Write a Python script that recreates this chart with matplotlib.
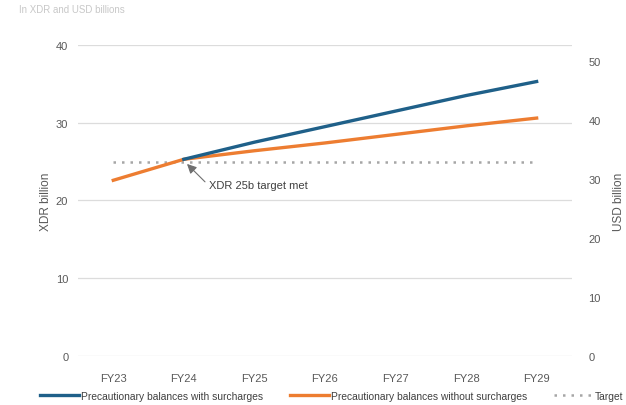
import matplotlib.pyplot as plt
import matplotlib
matplotlib.rcParams['font.family'] = ['Liberation Sans', 'DejaVu Sans']

# data ----
years = ['FY23', 'FY24', 'FY25', 'FY26', 'FY27', 'FY28', 'FY29']
with_surcharges = [None, 25.3, 27.5, 29.5, 31.5, 33.5, 35.3]
without_surcharges = [22.6, 25.3, 26.4, 27.4, 28.5, 29.6, 30.6]
target = [25, 25, 25, 25, 25, 25, 25]
xdr_ticks = [0, 10, 20, 30, 40]
usd_ticks = [0, 10, 20, 30, 40, 50]
usd_per_xdr = 1.318
#---------

grey = '#595959'
fig = plt.figure(figsize=(6.26, 4.06), dpi=100)
ax = fig.add_axes([0.1246, 0.1207, 0.789, 0.766])

x = list(range(len(years)))
xs = [i for i, v in zip(x, with_surcharges) if v is not None]
ys = [v for v in with_surcharges if v is not None]

ax.plot(x, target, linestyle=(0, (1, 2.4)), color='#a6a6a6', lw=1.8,
        label='Target', zorder=2)
ax.plot(x, without_surcharges, color='#ed7d31', lw=2.4,
        label='Precautionary balances without surcharges', zorder=3)
ax.plot(xs, ys, color='#1f6089', lw=2.4,
        label='Precautionary balances with surcharges', zorder=4)

ax.set_xlim(-0.5, len(years) - 0.5)
ax.set_ylim(0, 40)
ax.set_xticks(x)
ax.set_xticklabels(years)
ax.set_yticks(xdr_ticks)
ax.grid(axis='y', color='#dcdcdc', lw=0.9)
ax.set_axisbelow(True)
for s in ax.spines.values():
    s.set_visible(False)
ax.tick_params(length=0, colors=grey, labelsize=8, pad=7)
ax.tick_params(axis='x', pad=12)
ax.set_ylabel('XDR billion', color=grey, fontsize=8.5, labelpad=3)

# 右軸 (USD)
ax2 = ax.twinx()
ax2.set_ylim(0, 40 * usd_per_xdr)
ax2.set_yticks(usd_ticks)
for s in ax2.spines.values():
    s.set_visible(False)
ax2.tick_params(length=0, colors=grey, labelsize=8, pad=12)
ax2.set_ylabel('USD billion', color=grey, fontsize=8.5, labelpad=9)

# 注釈
ax.annotate('', xy=(1.045, 24.7), xytext=(1.30, 22.4),
            arrowprops=dict(arrowstyle='-|>', color='#6f6f6f', lw=0.8,
                            mutation_scale=14, shrinkA=0, shrinkB=0))
ax.text(1.356, 22.0, 'XDR 25b target met', fontsize=8, color='#404040',
        va='center', ha='left')

fig.text(0.03, 0.968, 'In XDR and USD billions', fontsize=7, color='#c8c8c8')

h, l = ax.get_legend_handles_labels()
order = [2, 1, 0]
fig.legend([h[i] for i in order], [l[i] for i in order], loc='lower center',
           bbox_to_anchor=(0.53, -0.012), ncol=3, frameon=False, fontsize=7.4,
           labelcolor='#404040', handlelength=3.8, columnspacing=2.6,
           handletextpad=0.2)

plt.savefig('out.png', dpi=100)
